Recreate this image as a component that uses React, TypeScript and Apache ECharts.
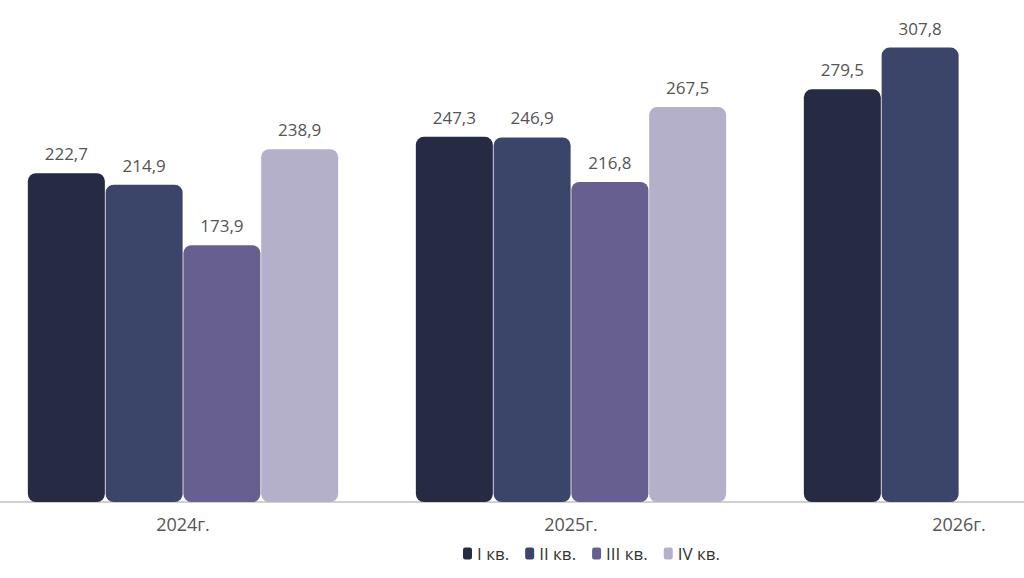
import React, { useEffect, useRef } from "react";
import * as echarts from "echarts";

const categories = ["2024г.", "2025г.", "2026г."];
const seriesNames = ["I кв.", "II кв.", "III кв.", "IV кв."];
const q1 = [222.7, 247.3, 279.5];
const q2 = [214.9, 246.9, 307.8];
const q3 = [173.9, 216.8, null];
const q4 = [238.9, 267.5, null];
const colors = ["#262a43", "#3a4569", "#675f8f", "#b5b0c9"];

export default function App() {
  const ref = useRef<HTMLDivElement>(null);
  useEffect(() => {
    if (!ref.current) return;
    const chart = echarts.init(ref.current, undefined, { renderer: "svg" });
    const font = "'Open Sans', sans-serif";
    const data = [q1, q2, q3, q4];
    chart.setOption({
      animation: false,
      textStyle: { fontFamily: font },
      grid: { left: 0, right: 0, top: 0, bottom: 76, containLabel: false },
      legend: {
        data: seriesNames,
        top: 540,
        left: 469,
        icon: "roundRect",
        itemWidth: 9,
        itemHeight: 12,
        itemGap: 16,
        textStyle: { fontSize: 17, color: "#333", fontFamily: font },
      },
      xAxis: {
        type: "category",
        data: categories,
        axisLine: { lineStyle: { color: "#d0d0d0", width: 2 } },
        axisTick: { show: false },
        axisLabel: { fontSize: 18, color: "#555", margin: 13, fontFamily: font },
      },
      yAxis: {
        type: "value",
        min: 0,
        max: 340,
        show: false,
        splitLine: { show: false },
      },
      series: data.map((d, i) => ({
        name: seriesNames[i],
        type: "bar",
        data: d,
        barWidth: 77,
        barGap: "1%",
        itemStyle: { color: colors[i], borderRadius: 8 },
        label: {
          show: true,
          position: "top",
          distance: 11,
          fontSize: 17,
          color: "#555",
          fontFamily: font,
          formatter: (p: any) => String(p.value).replace(".", ","),
        },
      })),
    });
    return () => chart.dispose();
  }, []);
  return (
    <div
      style={{ position: "fixed", left: 0, top: 0, width: 1024, height: 578, overflow: "hidden", background: "#fff" }}
    >
      <div ref={ref} style={{ position: "absolute", left: -11, top: 0, width: 1164, height: 578 }} />
    </div>
  );
}
